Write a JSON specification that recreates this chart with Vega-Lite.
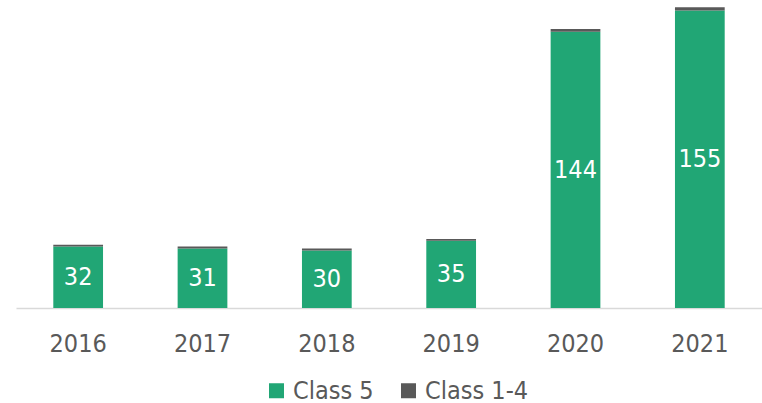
{
  "$schema": "https://vega.github.io/schema/vega-lite/v6.json",
  "width": 746,
  "height": 307,
  "autosize": {"type": "none"},
  "padding": {"left": 16, "top": 1, "right": 0, "bottom": 95},
  "background": "white",
  "config": {
    "view": {"stroke": null},
    "font": "DejaVu Sans Condensed"
  },
  "data": {
    "values": [
      {"year": "2016", "cls": "Class 5", "value": 32},
      {"year": "2016", "cls": "Class 1-4", "value": 1},
      {"year": "2017", "cls": "Class 5", "value": 31},
      {"year": "2017", "cls": "Class 1-4", "value": 1},
      {"year": "2018", "cls": "Class 5", "value": 30},
      {"year": "2018", "cls": "Class 1-4", "value": 1},
      {"year": "2019", "cls": "Class 5", "value": 35},
      {"year": "2019", "cls": "Class 1-4", "value": 1},
      {"year": "2020", "cls": "Class 5", "value": 144},
      {"year": "2020", "cls": "Class 1-4", "value": 1.4},
      {"year": "2021", "cls": "Class 5", "value": 155},
      {"year": "2021", "cls": "Class 1-4", "value": 1.7}
    ]
  },
  "encoding": {
    "x": {
      "field": "year",
      "type": "ordinal",
      "scale": {"paddingInner": 0.6, "paddingOuter": 0.3},
      "axis": {
        "title": null,
        "labelAngle": 0,
        "ticks": false,
        "domainColor": "#d9d9d9",
        "domainWidth": 1.5,
        "labelFontSize": 25,
        "labelColor": "#595959",
        "labelPadding": 23,
        "labelBaseline": "top",
        "grid": false
      }
    }
  },
  "layer": [
    {
      "mark": {"type": "bar"},
      "encoding": {
        "y": {
          "field": "value",
          "type": "quantitative",
          "stack": "zero",
          "scale": {"domain": [0, 160], "nice": false},
          "axis": null
        },
        "color": {
          "field": "cls",
          "type": "nominal",
          "scale": {"domain": ["Class 5", "Class 1-4"], "range": ["#21A675", "#595959"]},
          "legend": {
            "title": null,
            "orient": "none",
            "direction": "horizontal",
            "legendX": 248,
            "legendY": 377,
            "padding": 0,
            "symbolType": "square",
            "symbolSize": 225,
            "symbolStrokeWidth": 0,
            "symbolOpacity": 1,
            "labelFontSize": 25,
            "labelColor": "#595959",
            "labelOffset": 4,
            "columnPadding": 22
          }
        },
        "order": {"field": "cls", "sort": "descending"}
      }
    },
    {
      "transform": [{"filter": "datum.cls == 'Class 5'"}],
      "mark": {"type": "text", "color": "white", "fontSize": 25, "baseline": "middle", "align": "center"},
      "encoding": {
        "y": {
          "field": "value",
          "type": "quantitative",
          "stack": "zero",
          "bandPosition": 0.5
        },
        "detail": {"field": "cls"},
        "text": {"field": "value", "type": "quantitative"}
      }
    }
  ]
}
